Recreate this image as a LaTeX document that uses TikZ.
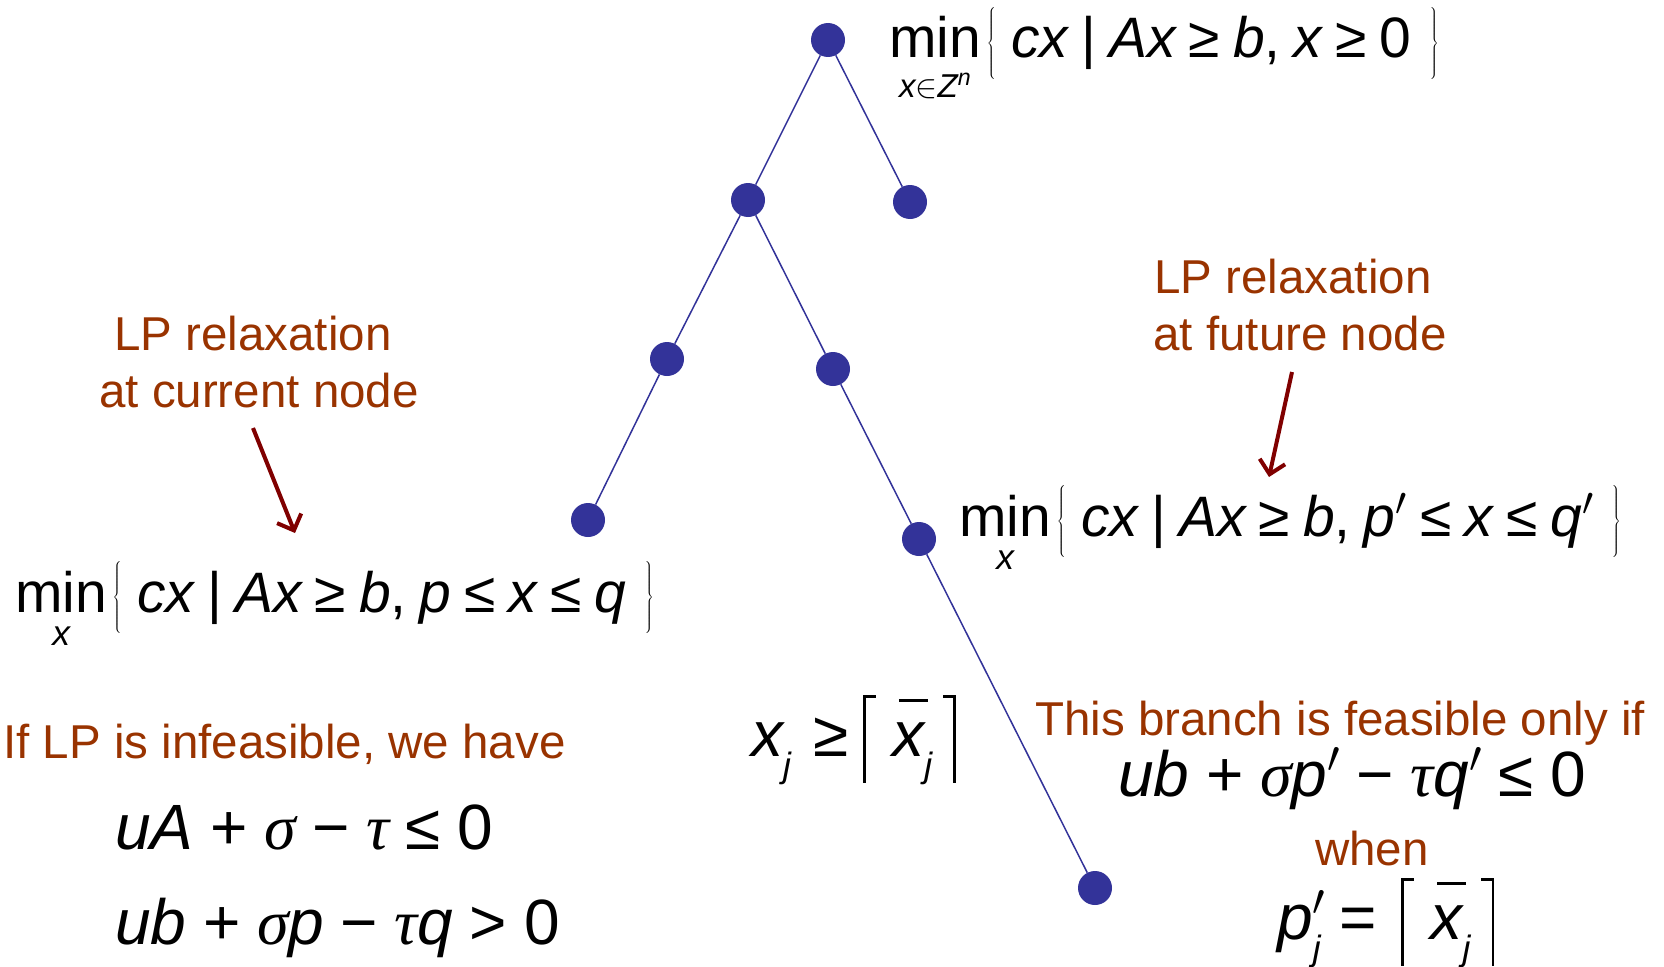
\RequirePackage{fix-cm}
\documentclass[tikz,border=0pt]{standalone}
\usepackage{fontspec}
\setmainfont{Liberation Sans}
\newfontfamily\grkfont{Liberation Serif}
\usetikzlibrary{arrows.meta}
\definecolor{labelc}{RGB}{153,51,0}
\definecolor{arrowc}{RGB}{128,0,0}
\definecolor{dotc}{RGB}{51,51,153}
\newcommand\gk[1]{{\grkfont\itshape #1}}
\newcommand\mv[1]{{\itshape #1}}
\newcommand\gp{\hspace{0.23em}}
\newcommand\gq{\hspace{0.26em}}
\newcommand\lbr{\hspace{0.1em}$\left\{\vrule height 0.9em depth 0.4em width 0pt\right.$\hspace{0.25em}}
\newcommand\rbr{\hspace{0.3em}$\left.\vrule height 0.9em depth 0.4em width 0pt\right\}$}
\newcommand\lcl{\rule[-0.42em]{0.045em}{1.37em}\rlap{\rule[0.905em]{0.16em}{0.045em}}}
\newcommand\rcl{\llap{\rule[0.905em]{0.16em}{0.045em}}\rule[-0.42em]{0.045em}{1.37em}}
\newcommand\sbj{\raisebox{-0.33em}{\scalebox{0.55}{\itshape j}}}
\newcommand\xbar{\rlap{\hspace{0.1em}\rule[0.84em]{0.46em}{0.045em}}\mv{x}}
\newcommand\prm{$^{\prime}$}
\newcommand\minx[2]{$\mathop{\hbox{min}}\limits_{\hbox{\rule{0pt}{#1}#2}}$}
\tikzset{
  dot/.style={circle, fill=dotc, inner sep=0pt, minimum size=34pt},
  edge/.style={draw=dotc, line width=1.5pt},
  lbl/.style={text=labelc, font=\fontsize{47.5}{57}\selectfont, inner sep=0pt},
  fm/.style={font=\fontsize{57}{68}\selectfont, inner sep=0pt},
  fb/.style={font=\fontsize{64}{76}\selectfont, inner sep=0pt},
  arr/.style={draw=arrowc, line width=4pt, -{Straight Barb[length=13pt,width=26pt]}}
}
\begin{document}
\begin{tikzpicture}[x=1pt,y=-1pt]
\useasboundingbox (0,0) rectangle (1664,966);
% tree nodes
\node[dot] (r) at (828,40) {};
\node[dot] (n1) at (748,200) {};
\node[dot] (n2) at (910,202) {};
\node[dot] (n3) at (667,359) {};
\node[dot] (n4) at (833,369) {};
\node[dot] (n5) at (588,520) {};
\node[dot] (n6) at (919,539) {};
\node[dot] (n7) at (1095,888) {};
\draw[edge] (r) -- (n1);
\draw[edge] (r) -- (n2);
\draw[edge] (n1) -- (n3);
\draw[edge] (n1) -- (n4);
\draw[edge] (n3) -- (n5);
\draw[edge] (n4) -- (n6);
\draw[edge] (n6) -- (n7);
% formulas
\node[fm, anchor=base west] (f0) at (889,58) {\minx{0.67em}{\scalebox{0.58}{\itshape x$\in$Z\textsuperscript{n}}}\lbr\mv{cx}\gp|\gp\mv{Ax}\gp≥\gp\mv{b},\gp\mv{x}\gp≥\gp0\rbr};
\node[fm, anchor=base west] (fl) at (15,612) {\minx{0.55em}{\scalebox{0.62}{\itshape x}}\lbr\mv{cx}\gp|\gp\mv{Ax}\gp≥\gp\mv{b},\gp\mv{p}\gp≤\gp\mv{x}\gp≤\gp\mv{q}\rbr};
\node[fm, anchor=base west] (fr) at (959,536) {\minx{0.55em}{\scalebox{0.62}{\itshape x}}\lbr\mv{cx}\gp|\gp\mv{Ax}\gp≥\gp\mv{b},\gp\mv{p}\prm\gp≤\gp\mv{x}\gp≤\gp\mv{q}\prm\rbr};
\node[fb, anchor=base west] (e1) at (115,849) {\mv{uA}\gq+\gq\gk{σ}\gq−\gq\gk{τ}\gq≤\gq0};
\node[fb, anchor=base west] (e2) at (115,944) {\mv{ub}\gq+\gq\gk{σ}\mv{p}\gq−\gq\gk{τ}\mv{q}\gq>\gq0};
\node[fb, anchor=base west] (e3) at (751,756) {\mv{x}\sbj\hspace{0.35em}≥\hspace{0.22em}\lcl\hspace{0.42em}\xbar\sbj\hspace{0.33em}\rcl};
\node[fb, anchor=base west] (e4) at (1118,796) {\mv{ub}\gq+\gq\gk{σ}\mv{p}\prm\gq−\gq\gk{τ}\mv{q}\prm\gq≤\gq0};
\node[fb, anchor=base west] (e5) at (1277,939) {\mv{p}\rlap{\prm}\sbj\hspace{0.3em}=\hspace{0.37em}\lcl\hspace{0.42em}\xbar\sbj\hspace{0.33em}\rcl};
% labels
\node[lbl, anchor=base] (l1) at (253,350) {LP relaxation};
\node[lbl, anchor=base] (l2) at (259,407) {at current node};
\node[lbl, anchor=base] (l3) at (1293,293) {LP relaxation};
\node[lbl, anchor=base] (l4) at (1300,350) {at future node};
\node[lbl, anchor=base west] (l5) at (3,758) {If LP is infeasible, we have};
\node[lbl, anchor=base west] (l6) at (1035,735) {This branch is feasible only if};
\node[lbl, anchor=base] (l7) at (1372,865) {when};
% arrows
\coordinate (a1s) at (253,428);
\coordinate (a1e) at (295,533);
\coordinate (a2s) at (1292,372);
\coordinate (a2e) at (1269,477);
\draw[arr] (a1s) -- (a1e);
\draw[arr] (a2s) -- (a2e);
\end{tikzpicture}
\end{document}
